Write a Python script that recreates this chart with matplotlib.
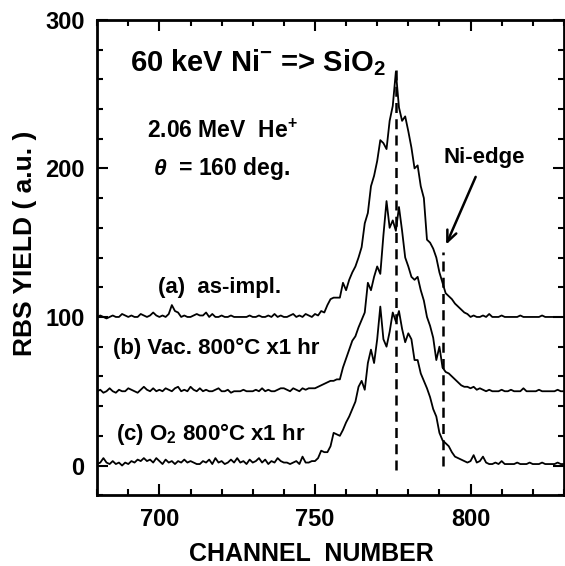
import numpy as np
from matplotlib import pyplot as plt
from matplotlib.ticker import MultipleLocator

plt.rcParams.update({
  'font.family': ['Liberation Sans', 'DejaVu Sans'],
  'font.weight': 'bold',
  'mathtext.fontset': 'custom',
  'mathtext.rm': 'Liberation Sans:bold',
  'mathtext.it': 'Liberation Sans:bold:italic',
  'mathtext.bf': 'Liberation Sans:bold',
})

# channels 680..830, one value per channel
channels = np.arange(680, 831)

# (c) O2 800C x1 hr (no offset)
yield_c = [
  1, 2, 5, 2, 1, 3, 1, 2, 0, 2,
  1, 3, 2, 4, 3, 5, 3, 4, 2, 5,
  3, 1, 4, 2, 3, 1, 3, 2, 4, 2,
  3, 2, 1, 1, 3, 2, 4, 1, 5, 2,
  3, 1, 2, 4, 2, 5, 2, 3, 1, 4,
  2, 3, 5, 2, 4, 1, 3, 2, 5, 3,
  2, 2, 1, 2, 3, 1, 6, 2, 2, 3,
  3, 5, 10, 9, 9, 13, 22, 21, 20, 24,
  29, 33, 38, 43, 53, 57, 51, 69, 78, 69,
  85, 107, 85, 80, 90, 103, 97, 104, 92, 83,
  89, 85, 71, 71, 62, 57, 52, 46, 38, 33,
  22, 17, 15, 13, 9, 6, 5, 4, 3, 2,
  3, 7, 2, 3, 6, 2, 1, 1, 2, 1,
  3, 1, 1, 1, 1, 2, 1, 1, 1, 2,
  1, 1, 1, 2, 1, 1, 1, 1, 2, 1, 1,
]

# (b) Vac. 800C x1 hr (offset ~50)
yield_b = [
  50, 51, 49, 50, 52, 50, 49, 51, 50, 50,
  52, 51, 50, 49, 51, 53, 51, 50, 52, 50,
  51, 50, 52, 51, 50, 52, 53, 50, 51, 50,
  53, 51, 50, 52, 50, 51, 50, 50, 51, 52,
  50, 50, 51, 49, 50, 50, 50, 51, 50, 50,
  50, 51, 50, 52, 50, 51, 50, 50, 51, 52,
  52, 51, 50, 52, 51, 50, 52, 51, 52, 52,
  52, 53, 54, 55, 56, 57, 57, 58, 58, 66,
  72, 78, 84, 87, 93, 98, 103, 123, 118, 127,
  134, 129, 155, 178, 160, 165, 158, 174, 158, 140,
  134, 127, 125, 127, 118, 111, 100, 94, 86, 71,
  80, 66, 63, 62, 60, 58, 56, 54, 53, 53,
  52, 53, 51, 52, 51, 50, 51, 50, 50, 50,
  51, 50, 50, 51, 50, 50, 50, 52, 50, 50,
  50, 50, 51, 50, 50, 50, 50, 50, 51, 50, 50,
]

# (a) as-impl. (offset ~100)
yield_a = [
  100, 101, 100, 99, 100, 101, 100, 100, 102, 101,
  100, 101, 100, 100, 102, 101, 100, 101, 103, 101,
  100, 101, 100, 102, 108, 104, 103, 100, 101, 100,
  100, 101, 102, 101, 101, 103, 100, 102, 100, 100,
  101, 100, 100, 101, 100, 100, 100, 100, 100, 101,
  100, 100, 101, 100, 100, 101, 100, 102, 100, 101,
  100, 100, 101, 102, 100, 101, 100, 102, 101, 100,
  102, 101, 104, 103, 108, 112, 113, 113, 113, 123,
  118, 125, 130, 134, 140, 147, 163, 170, 188, 195,
  205, 219, 217, 213, 232, 242, 265, 241, 232, 235,
  225, 214, 200, 202, 188, 180, 152, 150, 146, 140,
  130, 123, 116, 114, 112, 109, 107, 105, 103, 102,
  100, 101, 100, 100, 101, 100, 102, 100, 100, 100,
  101, 100, 100, 100, 100, 100, 101, 100, 100, 100,
  100, 100, 100, 101, 100, 100, 100, 100, 100, 100, 100,
]

peak_channel = 776
edge_channel = 791

fig = plt.figure(figsize=(5.65, 5.66), dpi=100)
ax = fig.add_axes([0.172, 0.125, 0.826, 0.84])

for y in (yield_a, yield_b, yield_c):
  ax.plot(channels, y, color='black', linewidth=1.3)

ax.plot([peak_channel, peak_channel], [-3, 270], color='black', linewidth=1.8, linestyle=(0, (4, 2.5)))
ax.plot([edge_channel, edge_channel], [0, 144], color='black', linewidth=1.8, linestyle=(0, (4, 2.5)))

ax.set_xlim(680, 830)
ax.set_ylim(-20, 300)
ax.xaxis.set_major_locator(MultipleLocator(50))
ax.xaxis.set_minor_locator(MultipleLocator(10))
ax.yaxis.set_major_locator(MultipleLocator(100))
ax.yaxis.set_minor_locator(MultipleLocator(20))
ax.tick_params(which='both', direction='in', top=True, right=True, width=1.5, labelsize=17)
ax.tick_params(which='major', length=8, pad=9)
ax.tick_params(which='minor', length=4)
for lab in ax.get_xticklabels() + ax.get_yticklabels():
  lab.set_fontweight('bold')
for s in ax.spines.values():
  s.set_linewidth(2)

ax.set_xlabel('CHANNEL  NUMBER', fontsize=18, fontweight='bold', va='center')
ax.set_ylabel('RBS YIELD ( a.u. )', fontsize=19, fontweight='bold', va='center')
ax.xaxis.set_label_coords(0.46, -0.124)
ax.yaxis.set_label_coords(-0.155, 0.53)

ax.text(690.5, 271, r'60 keV Ni$^{-}$ => SiO$_2$', fontsize=21, va='center')
ax.text(696, 225, r'2.06 MeV  He$^{+}$', fontsize=16.5, va='center')
ax.text(698, 200, r'$\theta$  = 160 deg.', fontsize=16.5, va='center')
ax.text(699.5, 120, '(a)  as-impl.', fontsize=16, va='center')
ax.text(685, 79, '(b) Vac. 800\u00b0C x1 hr', fontsize=16, va='center')
ax.text(686, 21, r'(c) O$_2$ 800' + '\u00b0C x1 hr', fontsize=16, va='center')
ax.text(804.5, 207, 'Ni-edge', fontsize=16, ha='center', va='center')
ax.annotate('', xy=(791.8, 147), xytext=(802, 196),
            arrowprops=dict(arrowstyle='->,head_length=0.8,head_width=0.35', color='black', lw=1.8))

fig.savefig('out.png')
